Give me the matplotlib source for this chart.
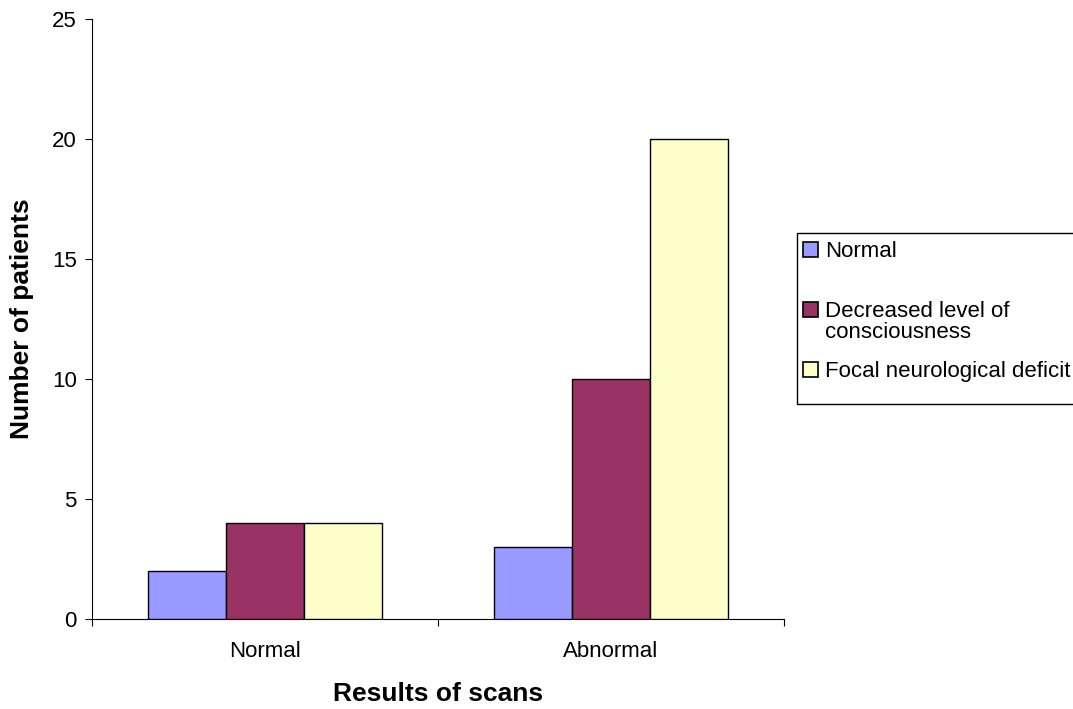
import matplotlib.pyplot as plt
import matplotlib.patches as mpatches
import numpy as np

plt.rcParams['font.family'] = ['Liberation Sans', 'DejaVu Sans']

# datos
grupos = ["Normal", "Abnormal"]
series = ["Normal", "Decreased level of\nconsciousness", "Focal neurological deficit"]
valores = [
    [2, 3],    # Normal
    [4, 10],   # Decreased level of consciousness
    [4, 20],   # Focal neurological deficit
]
colores = ['#9999FF', '#993366', '#FFFFCC']

W, H = 1073, 709
fig = plt.figure(figsize=(W / 100, H / 100), dpi=100)
ax = fig.add_axes([92 / W, 1 - 619 / H, (784 - 92) / W, (619 - 19) / H])

x = np.arange(len(grupos)) + 0.5
ancho = 0.225
for i, (nombre, vals, c) in enumerate(zip(series, valores, colores)):
    ax.bar(x + (i - 1) * ancho, vals, ancho, color=c, edgecolor='black',
           linewidth=1, label=nombre, zorder=3)

ax.set_xlim(0, 2)
ax.set_ylim(0, 25)
ax.set_yticks(range(0, 26, 5))
ax.tick_params(axis='y', labelsize=16, direction='out', length=5, width=0.8, pad=6)

# ticks del eje x en los bordes de categoría, etiquetas en el centro
ax.set_xticks([0, 1, 2])
ax.set_xticklabels([])
ax.set_xticks(x, minor=True)
ax.set_xticklabels(grupos, minor=True, fontsize=16)
ax.tick_params(axis='x', which='major', direction='out', length=5, width=0.8)
ax.tick_params(axis='x', which='minor', length=0, pad=16)

ax.spines['top'].set_visible(False)
ax.spines['right'].set_visible(False)
ax.spines['left'].set_linewidth(0.8)
ax.spines['bottom'].set_linewidth(0.8)

ax.set_xlabel("Results of scans", fontsize=19, fontweight='bold', labelpad=14)
ax.set_ylabel("Number of patients", fontsize=19, fontweight='bold', labelpad=13)

# leyenda dibujada a mano (estilo Excel: cuadrado alineado con la primera línea)
fig.patches.append(mpatches.Rectangle((797 / W, 1 - 404 / H), 0.5, (404 - 233) / H,
                                      transform=fig.transFigure, fill=False,
                                      edgecolor='black', linewidth=1))
filas_y = [257, 317, 377]  # línea base de cada entrada, en píxeles desde arriba
for nombre, c, yb in zip(series, colores, filas_y):
    fig.patches.append(mpatches.Rectangle((803 / W, 1 - yb / H), 15 / W, 15 / H,
                                          transform=fig.transFigure, facecolor=c,
                                          edgecolor='black', linewidth=1.2))
    for k, linea in enumerate(nombre.split("\n")):
        fig.text(825 / W, 1 - (yb + 21 * k) / H, linea, fontsize=16,
                 ha='left', va='baseline')

plt.savefig("out.png", dpi=100)
